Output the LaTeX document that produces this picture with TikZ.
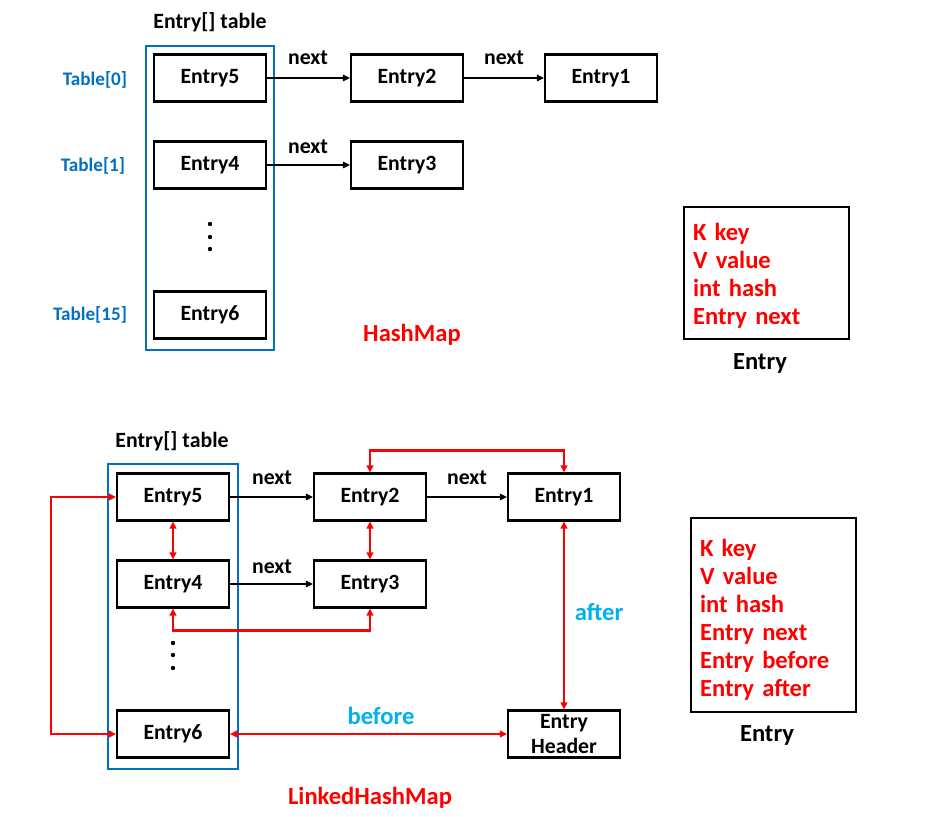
\documentclass[tikz,border=0pt]{standalone}
\usepackage{fontspec}
\setmainfont{Carlito}
\usetikzlibrary{arrows.meta}
\definecolor{tblue}{RGB}{0,112,192}
\definecolor{lblue}{RGB}{0,176,240}
\definecolor{lred}{RGB}{255,0,0}
\begin{document}
\begin{tikzpicture}[x=0.02cm,y=-0.02cm,
  every node/.style={font=\fontsize{12.4}{14}\selectfont\bfseries,inner sep=0pt},
  ebox/.style={draw,line width=1.2pt,minimum width=2.24cm,minimum height=0.94cm},
  tabbox/.style={draw=tblue,line width=1.2pt},
  tlabel/.style={text=tblue,font=\fontsize{10.9}{13}\selectfont\bfseries},
  biglabel/.style={font=\fontsize{14}{16}\selectfont\bfseries},
  fieldbox/.style={draw,line width=1.2pt,align=left,text=lred,anchor=north west,
    text width=2.94cm,inner xsep=0.18cm,inner ysep=0pt,
    font=\fontsize{14}{15.9}\selectfont\bfseries},
  blk/.style={line width=0.9pt,-{Triangle[length=4pt,width=3.6pt]}},
  rd/.style={draw=lred,line width=1.3pt,{Triangle[length=4pt,width=3.8pt]}-{Triangle[length=4pt,width=3.8pt]}},
  dot/.style={fill=black,draw=none}
]
\path[use as bounding box] (0,0) rectangle (934,817);

% ---------- HashMap ----------
\node (ttl1) at (210,22) {Entry[] table};
\draw[tabbox] (146,46) rectangle (274,350);
\node[ebox] (a5) at (210,78) {Entry5};
\node[ebox] (a2) at (407,78) {Entry2};
\node[ebox] (a1) at (601,78) {Entry1};
\node[ebox] (a4) at (210,165) {Entry4};
\node[ebox] (a3) at (407,165) {Entry3};
\node[ebox] (a6) at (210,315) {Entry6};
\fill[dot] (210,224) circle (2.2);
\fill[dot] (210,237) circle (2.2);
\fill[dot] (210,249) circle (2.2);
\node[tlabel] (t0) at (95,80) {Table[0]};
\node[tlabel] (t1) at (93,166) {Table[1]};
\node[tlabel] (t15) at (90,315) {Table[15]};
\draw[blk] (a5) -- (a2);
\draw[blk] (a2) -- (a1);
\draw[blk] (a4) -- (a3);
\node (n1) at (308,58) {next};
\node (n2) at (504,58) {next};
\node (n3) at (308,147) {next};
\node[biglabel,text=lred] (hm) at (412,335) {HashMap};
\node[fieldbox,minimum width=3.12cm,minimum height=2.64cm] (f1) at (683,206)
  {\rule{0pt}{13pt}K key\\V value\\int hash\\Entry next};
\node[biglabel] (el1) at (760,363) {Entry};

% ---------- LinkedHashMap ----------
\node (ttl2) at (172,441) {Entry[] table};
\draw[tabbox] (108,464) rectangle (238,769);
\node[ebox] (b5) at (173,497) {Entry5};
\node[ebox] (b2) at (370,497) {Entry2};
\node[ebox] (b1) at (564,497) {Entry1};
\node[ebox] (b4) at (173,584) {Entry4};
\node[ebox] (b3) at (370,584) {Entry3};
\node[ebox] (b6) at (173,734) {Entry6};
\node[ebox,align=center,font=\fontsize{12.4}{14.2}\selectfont\bfseries] (hd) at (564,734) {Entry\\Header};
\fill[dot] (173,643) circle (2.2);
\fill[dot] (173,655) circle (2.2);
\fill[dot] (173,668) circle (2.2);
\draw[blk] (b5) -- (b2);
\draw[blk] (b2) -- (b1);
\draw[blk] (b4) -- (b3);
\node (m1) at (272,478) {next};
\node (m2) at (467,478) {next};
\node (m3) at (272,567) {next};
\draw[rd] (b5.south) -- (b4.north);
\draw[rd] (b2.south) -- (b3.north);
\draw[rd] (b4.south) -- ++(0,22) -| (b3.south);
\draw[rd] (b2.north) -- ++(0,-22) -| (b1.north);
\draw[rd] (b1.south) -- (hd.north);
\draw[rd] (b6.east) -- (hd.west);
\draw[rd] (b6.west) -- ++(-65,0) |- (b5.west);
\node[biglabel,text=lblue] (aft) at (599,612) {after};
\node[biglabel,text=lblue] (bef) at (381,716) {before};
\node[biglabel,text=lred] (lhm) at (370,798) {LinkedHashMap};
\node[fieldbox,minimum width=3.12cm,minimum height=3.88cm] (f2) at (690,517)
  {\rule{0pt}{15pt}K key\\V value\\int hash\\Entry next\\Entry before\\Entry after};
\node[biglabel] (el2) at (767,735) {Entry};
\end{tikzpicture}
\end{document}
